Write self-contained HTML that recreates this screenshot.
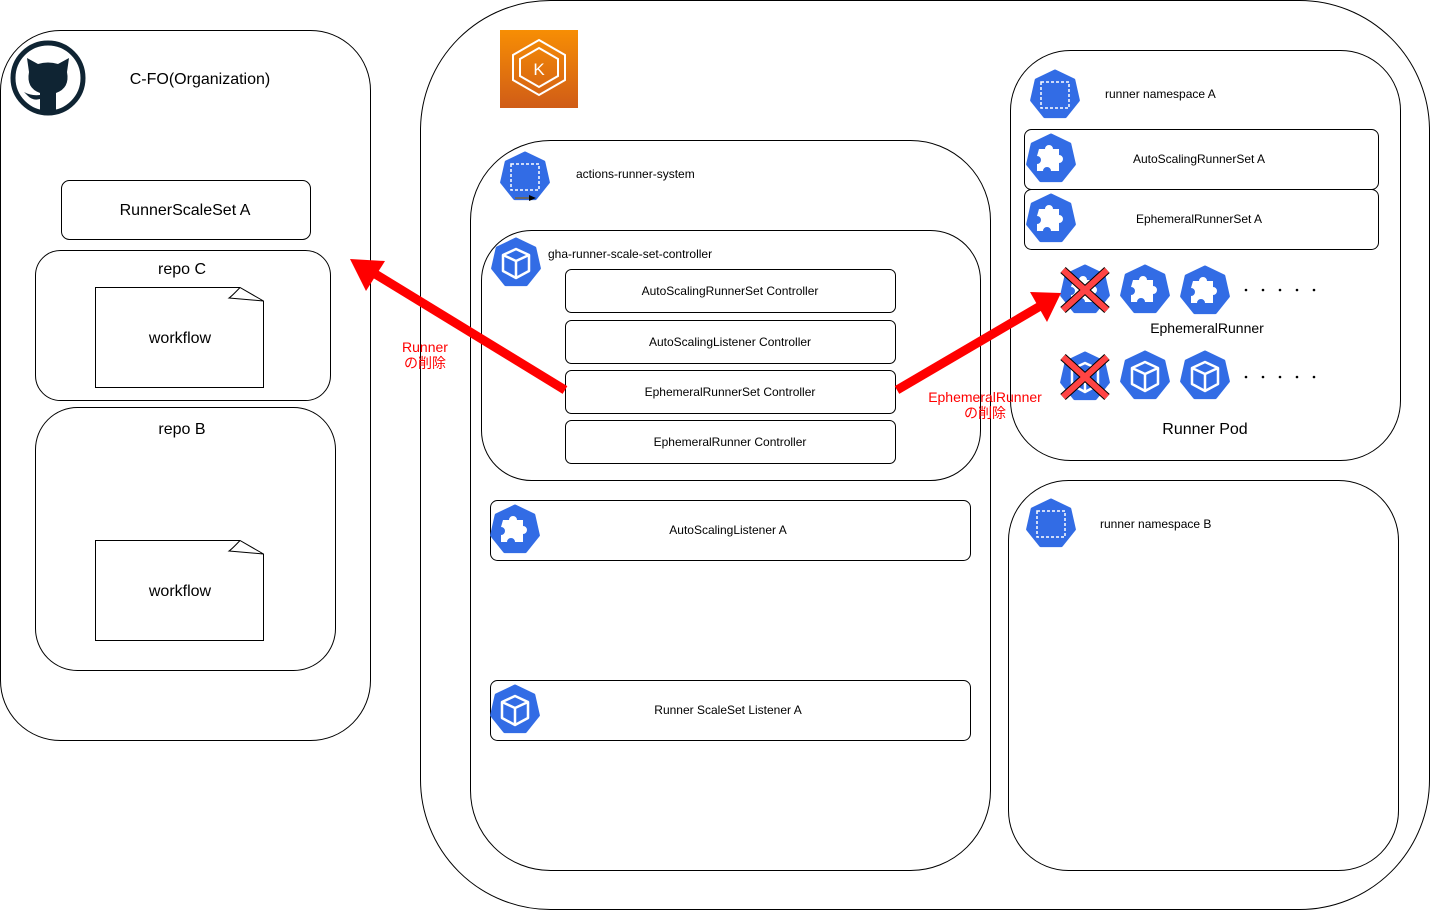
<!DOCTYPE html>
<html><head><meta charset="utf-8"><style>
html,body{margin:0;padding:0;background:#fff;}
svg{display:block;font-family:"Liberation Sans","Noto Sans CJK JP",sans-serif;}
</style></head><body>
<svg width="1431" height="911" viewBox="0 0 1431 911" xmlns="http://www.w3.org/2000/svg">
<defs>
  <g id="hep"><polygon points="0,-24 18.8,-15 23.4,5.3 10.4,21.6 -10.4,21.6 -23.4,5.3 -18.8,-15" fill="#326CE5" stroke="#326CE5" stroke-width="3" stroke-linejoin="round"/></g>
  <g id="ns"><use href="#hep"/><rect x="-14" y="-13" width="28" height="26" fill="none" stroke="#fff" stroke-width="1.5" stroke-dasharray="3,2"/></g>
  <g id="cube"><use href="#hep"/><path d="M0,-14 L13,-8 L13,8 L0,15 L-13,8 L-13,-8 Z M-13,-8 L0,-2 L13,-8 M0,-2 L0,15" fill="none" stroke="#fff" stroke-width="2.5" stroke-linejoin="round"/></g>
  <g id="puz"><use href="#hep"/><path d="M-12,-10 h6 a4,4 0 1 1 8,0 h6 v6 a4,4 0 1 1 0,8 v8 h-8 a4,4 0 1 0 -8,0 h-6 v-7 a4,4 0 1 0 0,-8 Z" fill="#fff"/></g>
  <g id="x"><path d="M-22,-20 L22,20 M22,-20 L-22,20" stroke="#000" stroke-width="8"/><path d="M-22,-20 L22,20 M22,-20 L-22,20" stroke="#f44" stroke-width="6"/></g>
</defs>
<g fill="none" stroke="#000" stroke-width="1">
  <rect x="0.5" y="30.5" width="370" height="710" rx="60"/>
  <rect x="61.5" y="180.5" width="249" height="59" rx="8"/>
  <rect x="35.5" y="250.5" width="295" height="150" rx="25"/>
  <rect x="35.5" y="407.5" width="300" height="263" rx="42"/>
  <rect x="420.5" y="0.5" width="1009" height="909" rx="130"/>
  <rect x="470.5" y="140.5" width="520" height="730" rx="80"/>
  <rect x="481.5" y="230.5" width="499" height="250" rx="50"/>
  <rect x="565.5" y="269.5" width="330" height="43" rx="6"/>
  <rect x="565.5" y="320.5" width="330" height="43" rx="6"/>
  <rect x="565.5" y="370.5" width="330" height="43" rx="6"/>
  <rect x="565.5" y="420.5" width="330" height="43" rx="6"/>
  <rect x="490.5" y="500.5" width="480" height="60" rx="7"/>
  <rect x="490.5" y="680.5" width="480" height="60" rx="7"/>
  <rect x="1010.5" y="50.5" width="390" height="410" rx="60"/>
  <rect x="1024.5" y="129.5" width="354" height="60" rx="7"/>
  <rect x="1024.5" y="189.5" width="354" height="60" rx="7"/>
  <rect x="1008.5" y="480.5" width="390" height="390" rx="60"/>
  <path d="M95.5,287.5 H240 L263.5,301 V387.5 H95.5 Z M240,287.5 Q232,296 229,298 L263.5,301"/>
  <path d="M95.5,540.5 H240 L263.5,554 V640.5 H95.5 Z M240,540.5 Q232,549 229,551 L263.5,554"/>
</g>
<!-- github -->
<circle cx="48" cy="78" r="35" fill="#fff" stroke="#0f2433" stroke-width="5"/>
<path d="M29,72 L27,58 L38,64 Q48,61 58,64 L69,58 L67,72 Q70,88 56,93 V112 H40 V99 Q33,101 28,96 L24,92 Q31,96 40,95 V93 Q26,88 29,72 Z" fill="#0f2433"/>
<!-- EKS -->
<defs><linearGradient id="eg" x1="0" y1="0" x2="0" y2="1"><stop offset="0" stop-color="#F78E04"/><stop offset="1" stop-color="#D05C17"/></linearGradient></defs>
<rect x="500" y="30" width="78" height="78" fill="url(#eg)"/>
<g fill="none" stroke="#fff" stroke-width="2"><polygon points="539,40 565,55 565,80 539,95 513,80 513,55"/><polygon points="539,48 558,59 558,76 539,87 520,76 520,59"/></g>
<text x="539" y="75" font-size="17" fill="#fff" text-anchor="middle">K</text>
<!-- icons -->
<use href="#ns" x="525" y="177"/>
<path d="M515,198 H530" stroke="#666" stroke-width="2"/><path d="M529,195 L536,198 L529,201 Z" fill="#000"/>
<use href="#cube" x="516" y="263"/>
<use href="#puz" x="515" y="530"/>
<use href="#cube" x="515" y="710"/>
<use href="#ns" x="1055" y="95"/>
<use href="#puz" x="1051" y="159"/>
<use href="#puz" x="1051" y="219"/>
<use href="#puz" x="1085" y="290"/><use href="#x" x="1085" y="290"/>
<use href="#puz" x="1145" y="290"/>
<use href="#puz" x="1205" y="291"/>
<use href="#cube" x="1085" y="377"/><use href="#x" x="1085" y="377"/>
<use href="#cube" x="1145" y="376"/>
<use href="#cube" x="1205" y="376"/>
<use href="#ns" x="1051" y="524"/>
<g fill="#000"><circle cx="1246" cy="290" r="1.3"/><circle cx="1263" cy="290" r="1.3"/><circle cx="1280" cy="290" r="1.3"/><circle cx="1297" cy="290" r="1.3"/><circle cx="1314" cy="290" r="1.3"/>
<circle cx="1246" cy="377" r="1.3"/><circle cx="1263" cy="377" r="1.3"/><circle cx="1280" cy="377" r="1.3"/><circle cx="1297" cy="377" r="1.3"/><circle cx="1314" cy="377" r="1.3"/></g>
<!-- red arrows -->
<line x1="565" y1="390" x2="372" y2="272" stroke="#f00" stroke-width="9"/>
<polygon points="350,259 385,261 366,291" fill="#f00"/>
<line x1="897" y1="390" x2="1042" y2="305" stroke="#f00" stroke-width="9"/>
<polygon points="1061,293 1030,292 1047,322" fill="#f00"/>
<!-- text -->
<g fill="#000" text-anchor="middle">
  <text x="200" y="84" font-size="16">C-FO(Organization)</text>
  <text x="185" y="215" font-size="16">RunnerScaleSet A</text>
  <text x="182" y="274" font-size="16">repo C</text>
  <text x="180" y="343" font-size="16">workflow</text>
  <text x="182" y="434" font-size="16">repo B</text>
  <text x="180" y="596" font-size="16">workflow</text>
  <text x="730" y="295" font-size="12">AutoScalingRunnerSet Controller</text>
  <text x="730" y="346" font-size="12">AutoScalingListener Controller</text>
  <text x="730" y="396" font-size="12">EphemeralRunnerSet Controller</text>
  <text x="730" y="446" font-size="12">EphemeralRunner Controller</text>
  <text x="728" y="534" font-size="12">AutoScalingListener A</text>
  <text x="728" y="714" font-size="12">Runner ScaleSet Listener A</text>
  <text x="1199" y="163" font-size="12">AutoScalingRunnerSet A</text>
  <text x="1199" y="223" font-size="12">EphemeralRunnerSet A</text>
  <text x="1207" y="333" font-size="14">EphemeralRunner</text>
  <text x="1205" y="434" font-size="16">Runner Pod</text>
</g>
<g fill="#000" font-size="12">
  <text x="576" y="178">actions-runner-system</text>
  <text x="548" y="258">gha-runner-scale-set-controller</text>
  <text x="1105" y="98">runner namespace A</text>
  <text x="1100" y="528">runner namespace B</text>
</g>
<g fill="#f00" font-size="14" text-anchor="middle">
  <text x="425" y="352">Runner</text>
  <text x="425" y="368">の削除</text>
  <text x="985" y="402">EphemeralRunner</text>
  <text x="985" y="418">の削除</text>
</g>
</svg>
</body></html>
